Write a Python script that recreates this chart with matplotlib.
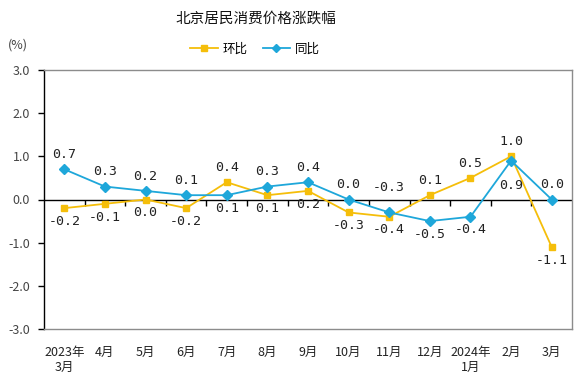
import matplotlib.pyplot as plt

plt.rcParams['font.family'] = ['Noto Sans CJK SC', 'DejaVu Sans']
plt.rcParams['axes.unicode_minus'] = False

months = ["2023年\n3月", "4月", "5月", "6月", "7月", "8月", "9月",
          "10月", "11月", "12月", "2024年\n1月", "2月", "3月"]
huanbi = [-0.2, -0.1, 0.0, -0.2, 0.4, 0.1, 0.2, -0.3, -0.4, 0.1, 0.5, 1.0, -1.1]
tongbi = [0.7, 0.3, 0.2, 0.1, 0.1, 0.3, 0.4, 0.0, -0.3, -0.5, -0.4, 0.9, 0.0]

yellow = "#F5BE0A"
blue = "#1EA7DA"

fig = plt.figure(figsize=(5.83, 3.80), dpi=100)
ax = fig.add_axes([44/583, 1-329/380, (572-44)/583, (329-70)/380])

x = list(range(len(months)))
l1, = ax.plot(x, huanbi, color=yellow, linewidth=1.3, marker="s", markersize=5,
              label="环比", zorder=3)
l2, = ax.plot(x, tongbi, color=blue, linewidth=1.3, marker="D", markersize=5,
              label="同比", zorder=4)

# data labels: higher value above, lower below
for i in x:
    a, b = huanbi[i], tongbi[i]
    if a > b:
        up, dn = a, b
    else:
        up, dn = b, a
    off_up, off_dn = 10.5, -9.5
    # labels that would crowd the lines get pushed further out
    if abs(up - dn) < 0.15:
        if abs(up) < abs(dn):
            off_up = 18
        else:
            off_dn = -18
    ax.annotate("%.1f" % up, (i, up), xytext=(0, off_up), textcoords="offset points",
                ha="center", va="center", fontsize=9.5, family="DejaVu Sans Mono",
                color="#222222")
    ax.annotate("%.1f" % dn, (i, dn), xytext=(0, off_dn), textcoords="offset points",
                ha="center", va="center", fontsize=9.5, family="DejaVu Sans Mono",
                color="#222222")

# zero line with ticks between categories
ax.axhline(0, color="black", linewidth=1, zorder=2)
bounds = [i + 0.5 for i in x[:-1]]
ax.plot(bounds, [0] * len(bounds), linestyle="none", marker=3, markersize=4,
        color="black", markeredgewidth=1, zorder=2)

ax.set_xlim(-0.5, len(months) - 0.5)
ax.set_ylim(-3.0, 3.0)
yt = [3.0, 2.0, 1.0, 0.0, -1.0, -2.0, -3.0]
ax.set_yticks(yt)
ax.set_yticklabels(["%.1f" % v for v in yt])
ax.set_xticks(x)
ax.set_xticklabels(months, fontsize=9, va="top", linespacing=1.2)
ax.tick_params(axis="x", length=0, pad=12, colors="#222222")
ax.tick_params(axis="y", length=4, width=1, direction="out", labelsize=9,
               colors="black", labelcolor="#444444", pad=6)

ax.spines["left"].set_color("black")
ax.spines["left"].set_linewidth(1)
for s in ["top", "right", "bottom"]:
    ax.spines[s].set_color("#8c8c8c")
    ax.spines[s].set_linewidth(1)

fig.text(256/583, 1-19/380, "北京居民消费价格涨跌幅", ha="center", va="center",
         fontsize=10.5, color="#111111")
fig.text(18/583, 1-45/380, "(%)", ha="center", va="center", fontsize=9,
         color="#444444")
fig.legend(handles=[l1, l2], loc="center", bbox_to_anchor=(255/583, 1-49/380),
           ncol=2, frameon=False, fontsize=9, handlelength=2.2,
           handletextpad=0.4, columnspacing=1.2, markerscale=0.9)

fig.savefig("out.png", dpi=100)
